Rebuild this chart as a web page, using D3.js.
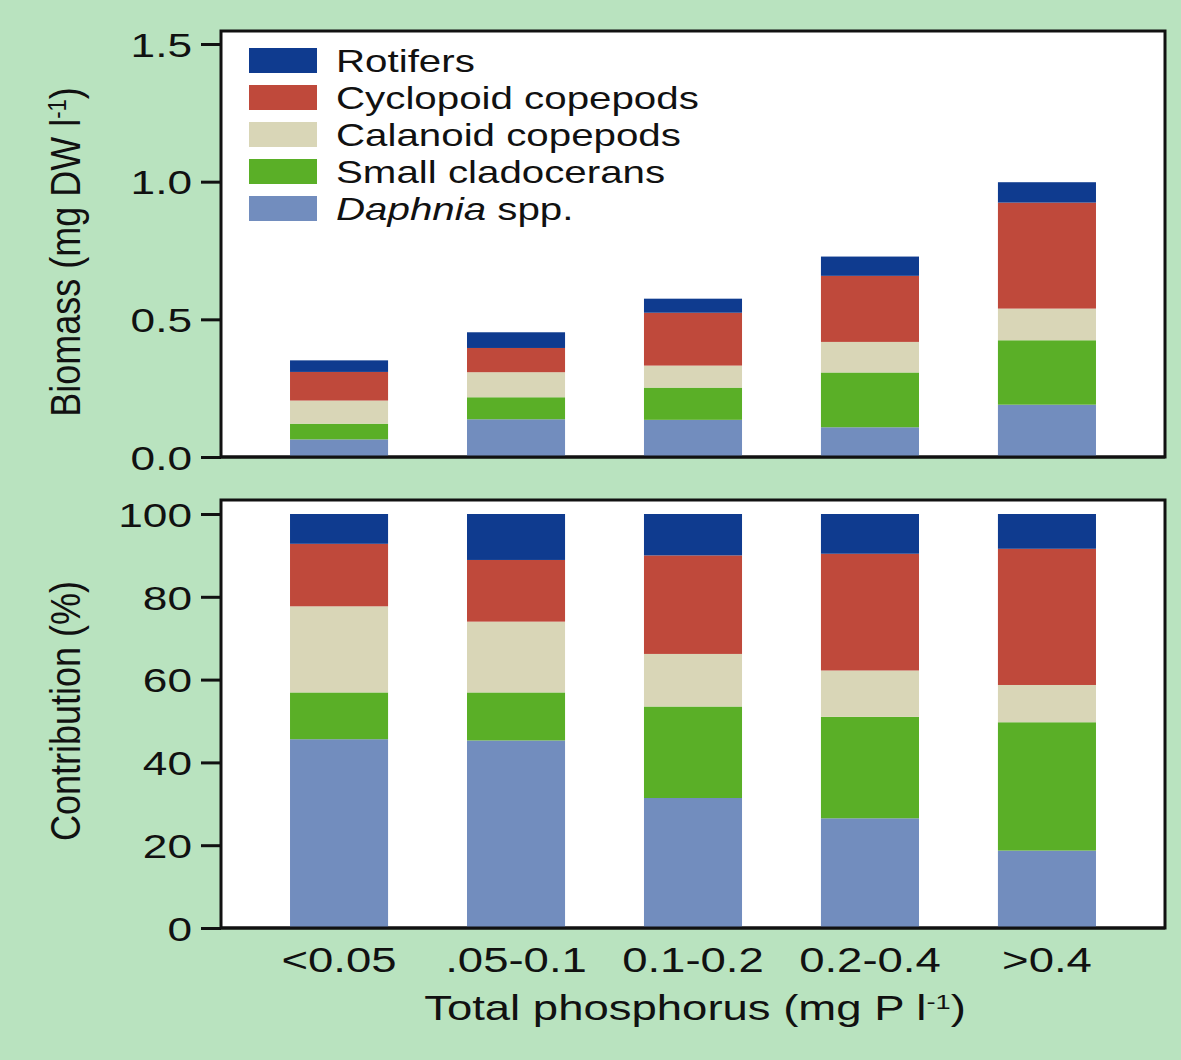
<!DOCTYPE html>
<html>
<head>
<meta charset="utf-8">
<script src="https://cdn.jsdelivr.net/npm/d3@7"></script>
<style>
  html, body { margin: 0; padding: 0; background: #b9e3bf; }
  svg { display: block; }
  text { font-family: "Liberation Sans", Arial, Helvetica, sans-serif; fill: #111; }
</style>
</head>
<body>
<script>
// ---------- data ----------
const categories = ["<0.05", ".05-0.1", "0.1-0.2", "0.2-0.4", ">0.4"];
const seriesNames = ["Daphnia spp.", "Small cladocerans", "Calanoid copepods", "Cyclopoid copepods", "Rotifers"];
// Biomass (mg DW l-1), bottom to top
const biomassDaphnia   = [0.064, 0.137, 0.135, 0.108, 0.190];
const biomassSmallClad = [0.057, 0.080, 0.117, 0.199, 0.234];
const biomassCalanoid  = [0.084, 0.091, 0.080, 0.111, 0.115];
const biomassCyclopoid = [0.104, 0.088, 0.192, 0.240, 0.385];
const biomassRotifers  = [0.042, 0.057, 0.051, 0.070, 0.074];
// Contribution (%)
const pctDaphnia   = [45.6, 45.3, 31.4, 26.5, 18.7];
const pctSmallClad = [11.3, 11.6, 22.1, 24.5, 31.0];
const pctCalanoid  = [20.8, 17.1, 12.7, 11.2,  9.0];
const pctCyclopoid = [15.1, 14.9, 23.8, 28.2, 32.9];
const pctRotifers  = [ 7.2, 11.1, 10.0,  9.6,  8.4];
const biomassTicks = [0, 0.5, 1.0, 1.5];
const pctTicks = [0, 20, 40, 60, 80, 100];
const colors = ["#728dbe", "#5aaf27", "#d9d6b7", "#bf493b", "#0f3b8f"];

// ---------- layout ----------
const W = 1181, H = 1060;
const SX = 1.3; // horizontal glyph stretch of the original
const svg = d3.select("body").append("svg").attr("width", W).attr("height", H);
svg.append("rect").attr("width", W).attr("height", H).attr("fill", "#b9e3bf");

const left = 221, right = 1165;
const x = d3.scaleBand().domain(categories).range([left, right]).paddingInner(0.446).paddingOuter(0.39);

function buildRows(arrs) {
  return categories.map((c, i) => {
    const r = { cat: c };
    seriesNames.forEach((s, k) => r[s] = arrs[k][i]);
    return r;
  });
}

function panel(opts) {
  const { top, bottom, y, rows, ticks, fmt } = opts;
  const g = svg.append("g");
  g.append("rect").attr("x", left).attr("y", top).attr("width", right - left).attr("height", bottom - top)
    .attr("fill", "#fff").attr("stroke", "#111").attr("stroke-width", 3);
  const stack = d3.stack().keys(seriesNames)(rows);
  stack.forEach((layer, k) => {
    g.selectAll(null).data(layer).enter().append("rect")
      .attr("x", d => x(d.data.cat))
      .attr("width", x.bandwidth())
      .attr("y", d => y(d[1]))
      .attr("height", d => y(d[0]) - y(d[1]))
      .attr("fill", colors[k]);
  });
  g.append("line").attr("x1", left).attr("x2", right).attr("y1", bottom).attr("y2", bottom)
    .attr("stroke", "#111").attr("stroke-width", 3);
  const ax = g.append("g").attr("transform", `translate(${left},0)`)
    .call(d3.axisLeft(y).tickValues(ticks).tickFormat(fmt).tickSize(20).tickPadding(9));
  ax.select(".domain").remove();
  ax.selectAll(".tick line").attr("stroke", "#111").attr("stroke-width", 3);
  ax.selectAll(".tick text").attr("x", null).attr("dy", "0.36em")
    .attr("transform", `translate(-29,0) scale(${SX},1)`)
    .style("font-size", "34px").attr("fill", "#111");
  return g;
}

// Top panel
const yTop = d3.scaleLinear().domain([0, 1.5]).range([457, 44]);
panel({ top: 31, bottom: 457, y: yTop,
  rows: buildRows([biomassDaphnia, biomassSmallClad, biomassCalanoid, biomassCyclopoid, biomassRotifers]),
  ticks: biomassTicks, fmt: d3.format(".1f") });

// Bottom panel
const yBot = d3.scaleLinear().domain([0, 100]).range([928, 514]);
panel({ top: 500, bottom: 928, y: yBot,
  rows: buildRows([pctDaphnia, pctSmallClad, pctCalanoid, pctCyclopoid, pctRotifers]),
  ticks: pctTicks, fmt: d3.format("d") });

// x tick labels (bottom)
const xAx = svg.append("g").attr("transform", "translate(0,928)")
  .call(d3.axisBottom(x).tickSize(0).tickPadding(0));
xAx.select(".domain").remove();
xAx.selectAll(".tick text").attr("y", null).attr("dy", null)
  .attr("transform", `translate(0,44) scale(${SX},1)`)
  .style("font-size", "35px").attr("fill", "#111");

// Axis titles
const xt = svg.append("text").attr("text-anchor", "middle")
  .attr("transform", `translate(${(left + right) / 2 + 2},1020) scale(${SX},1)`)
  .style("font-size", "35px");
xt.append("tspan").text("Total phosphorus (mg P l");
xt.append("tspan").attr("baseline-shift", "super").style("font-size", "21px").text("-1");
xt.append("tspan").text(")");

function yTitle(cy, parts) {
  const t = svg.append("text").attr("text-anchor", "middle")
    .attr("transform", `translate(80,${cy}) scale(1.16,1) rotate(-90)`)
    .style("font-size", "36px");
  parts(t);
}
yTitle(252, t => {
  t.append("tspan").text("Biomass (mg DW l");
  t.append("tspan").attr("baseline-shift", "super").style("font-size", "22px").text("-1");
  t.append("tspan").text(")");
});
yTitle(711, t => t.append("tspan").text("Contribution (%)"));

// Legend (top to bottom: Rotifers ... Daphnia)
const legendOrder = seriesNames.map((s, k) => ({ s, k })).reverse();
const lg = svg.append("g").attr("transform", "translate(249,48)");
legendOrder.forEach((d, i) => {
  const row = lg.append("g").attr("transform", `translate(0,${i * 37})`);
  row.append("rect").attr("width", 68).attr("height", 25).attr("fill", colors[d.k]);
  const t = row.append("text").attr("transform", `translate(87,24) scale(${SX},1)`).style("font-size", "31px");
  if (d.s === "Daphnia spp.") {
    t.append("tspan").style("font-style", "italic").text("Daphnia");
    t.append("tspan").text(" spp.");
  } else {
    t.text(d.s);
  }
});
</script>
</body>
</html>
